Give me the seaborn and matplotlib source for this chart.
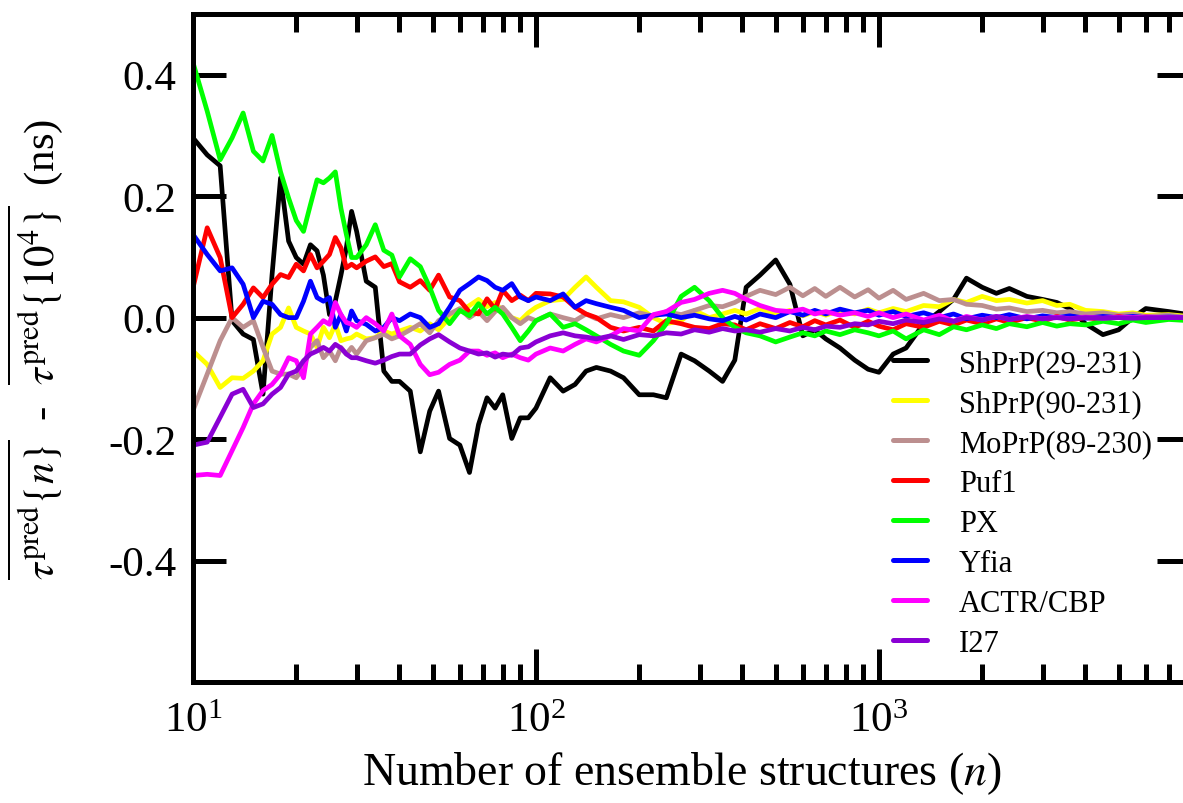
import matplotlib
matplotlib.use("Agg")
import matplotlib.pyplot as plt
import seaborn as sns
import numpy as np
import pandas as pd

# ---------------- data ----------------
n_values = (list(range(10, 31)) +
            [32, 34, 36, 38, 40, 43, 46, 49, 52, 56, 60, 64, 68, 72, 76, 80, 85, 90, 95, 100] +
            [110, 120, 130, 140, 150, 165, 180, 200, 220, 240,
             265, 290, 320, 350, 380, 410, 450, 500, 550, 600,
             650, 700, 770, 850, 930, 1000, 1100, 1200, 1350, 1500,
             1650, 1800, 2000, 2200, 2400, 2700, 3000, 3300, 3600, 4000,
             4500, 5000, 5500, 6000, 7000, 8000])

series_names = ["ShPrP(29-231)", "ShPrP(90-231)", "MoPrP(89-230)", "Puf1",
                "PX", "Yfia", "ACTR/CBP", "I27"]

shprp29 = [0.296, 0.268, 0.25, -0.005, -0.027, -0.036, -0.126, 0.07, 0.23, 0.126,
           0.099, 0.088, 0.12, 0.11, 0.07, 0.005, 0.027, 0.07, 0.115, 0.175, 0.142,
           0.06, 0.05, -0.088, -0.105, -0.105, -0.121, -0.221, -0.154, -0.121, -0.199,
           -0.21, -0.255, -0.176, -0.132, -0.149, -0.127, -0.199, -0.165, -0.165, -0.149,
           -0.099, -0.121, -0.11, -0.088, -0.082, -0.088, -0.099, -0.127, -0.127, -0.132,
           -0.06, -0.071, -0.088, -0.105, -0.07, 0.05, 0.07, 0.095, 0.055, -0.03,
           -0.02, -0.035, -0.05, -0.07, -0.085, -0.09, -0.06, -0.05, -0.01, 0.01,
           0.03, 0.065, 0.05, 0.04, 0.048, 0.035, 0.03, 0.025, 0.015, -0.01,
           -0.028, -0.02, 0.0, 0.015, 0.01, 0.005]

shprp90 = [-0.055, -0.077, -0.115, -0.099, -0.1, -0.088, -0.071, -0.027, -0.016, 0.016,
           -0.016, -0.022, -0.027, -0.049, -0.016, -0.033, -0.011, -0.038, -0.035, -0.033, -0.027,
           -0.035, -0.033, -0.022, -0.027, -0.022, -0.016, -0.022, -0.01, -0.02, 0.0,
           0.01, 0.02, 0.03, 0.018, 0.025, 0.01, 0.0, -0.005, 0.008, 0.017,
           0.028, 0.03, 0.05, 0.067, 0.05, 0.028, 0.026, 0.017, 0.0, -0.01,
           -0.005, 0.012, 0.0, 0.006, 0.012, 0.006, 0.015, 0.005, 0.012, 0.003,
           0.01, 0.004, 0.012, 0.006, 0.014, 0.008, 0.015, 0.01, 0.02, 0.018,
           0.03, 0.025, 0.035, 0.028, 0.03, 0.024, 0.028, 0.02, 0.022, 0.012,
           0.01, 0.006, 0.008, 0.004, 0.005, 0.002]

moprp = [-0.153, -0.093, -0.038, 0.0, -0.016, -0.005, -0.049, -0.088, -0.093, -0.093,
         -0.099, -0.082, -0.049, -0.038, -0.066, -0.055, -0.071, -0.049, -0.06, -0.049, -0.06,
         -0.038, -0.033, -0.027, -0.035, -0.03, -0.02, -0.01, -0.025, -0.005, 0.006,
         0.015, 0.0, 0.01, -0.005, 0.01, 0.017, 0.0, -0.01, 0.0, -0.005,
         0.006, 0.0, -0.005, 0.006, -0.002, 0.005, 0.0, 0.008, 0.002, 0.01,
         0.005, 0.012, 0.02, 0.018, 0.025, 0.035, 0.045, 0.038, 0.05, 0.036,
         0.048, 0.035, 0.05, 0.034, 0.046, 0.032, 0.045, 0.03, 0.04, 0.028,
         0.03, 0.022, 0.02, 0.014, 0.016, 0.01, 0.012, 0.008, 0.01, 0.006,
         0.008, 0.004, 0.006, 0.002, 0.004, 0.0]

puf1 = [0.049, 0.148, 0.099, 0.0, 0.022, 0.049, 0.033, 0.055, 0.071, 0.066,
        0.088, 0.077, 0.104, 0.082, 0.093, 0.104, 0.132, 0.115, 0.082, 0.088, 0.082,
        0.093, 0.1, 0.084, 0.089, 0.059, 0.05, 0.061, 0.045, 0.07, 0.034,
        0.028, 0.009, 0.006, 0.031, 0.014, 0.045, 0.028, 0.037, 0.028, 0.04,
        0.039, 0.034, 0.017, 0.006, 0.0, -0.016, -0.022, -0.016, -0.022, -0.005,
        -0.01, -0.016, -0.018, -0.01, -0.012, -0.02, -0.01, -0.018, -0.008, -0.015,
        -0.005, -0.012, -0.004, -0.016, -0.006, -0.014, -0.02, -0.01, -0.016, -0.006,
        -0.012, -0.004, -0.01, -0.002, -0.008, 0.0, -0.006, 0.002, -0.004, 0.0,
        -0.003, 0.002, -0.002, 0.001, -0.001, 0.0]

px = [0.42, 0.34, 0.26, 0.296, 0.337, 0.274, 0.258, 0.30, 0.24, 0.197,
      0.16, 0.142, 0.186, 0.227, 0.222, 0.23, 0.24, 0.18, 0.137, 0.099, 0.099,
      0.12, 0.153, 0.111, 0.103, 0.067, 0.097, 0.084, 0.05, 0.012, -0.01,
      0.012, 0.003, 0.023, 0.006, 0.017, 0.006, -0.016, -0.038, -0.022, -0.005,
      0.006, -0.016, -0.01, -0.02, -0.03, -0.044, -0.055, -0.062, -0.038, -0.01,
      0.035, 0.05, 0.028, 0.0, -0.016, -0.025, -0.03, -0.04, -0.032, -0.025,
      -0.03, -0.022, -0.028, -0.02, -0.025, -0.03, -0.022, -0.035, -0.02, -0.028,
      -0.015, -0.02, -0.012, -0.018, -0.01, -0.015, -0.008, -0.014, -0.01, -0.012,
      -0.006, -0.01, -0.004, -0.008, -0.003, -0.005]

yfia = [0.137, 0.104, 0.077, 0.082, 0.055, 0.0, 0.027, 0.022, 0.005, 0.0,
        0.0, 0.027, 0.06, 0.033, 0.027, 0.033, -0.016, 0.005, -0.022, 0.011, -0.005,
        -0.011, -0.022, -0.016, 0.0, -0.005, 0.006, 0.0, -0.016, -0.01, 0.017,
        0.045, 0.056, 0.067, 0.061, 0.05, 0.045, 0.056, 0.034, 0.028, 0.034,
        0.028, 0.039, 0.017, 0.028, 0.023, 0.017, 0.012, 0.0, 0.004, 0.006,
        0.0, 0.004, -0.002, -0.005, 0.002, -0.004, 0.006, 0.0, 0.01, 0.004,
        0.012, 0.006, 0.014, 0.008, 0.012, 0.004, 0.01, 0.002, 0.008, 0.0,
        0.006, -0.002, 0.004, 0.0, 0.005, -0.002, 0.003, 0.0, 0.003, -0.001,
        0.002, 0.0, 0.002, 0.0, 0.001, 0.0]

actr = [-0.26, -0.258, -0.26, -0.219, -0.181, -0.142, -0.12, -0.11, -0.093, -0.066,
        -0.071, -0.099, -0.027, -0.016, -0.005, -0.011, 0.025, 0.005, -0.008, -0.011, -0.016,
        0.0, -0.01, -0.022, 0.006, -0.03, -0.044, -0.077, -0.094, -0.09, -0.077,
        -0.07, -0.055, -0.055, -0.062, -0.058, -0.066, -0.06, -0.066, -0.07, -0.06,
        -0.05, -0.055, -0.044, -0.035, -0.04, -0.03, -0.018, -0.022, 0.005, 0.01,
        0.025, 0.03, 0.04, 0.045, 0.04, 0.03, 0.02, 0.012, 0.01, 0.014,
        0.006, 0.01, 0.004, 0.008, 0.002, 0.008, 0.0, 0.006, -0.004, 0.004,
        -0.006, 0.002, -0.004, 0.002, -0.003, 0.002, -0.002, 0.001, -0.002, 0.001,
        -0.001, 0.001, 0.0, 0.001, 0.0, 0.0]

i27 = [-0.21, -0.205, -0.164, -0.126, -0.118, -0.148, -0.142, -0.126, -0.115, -0.093,
       -0.088, -0.071, -0.06, -0.055, -0.049, -0.055, -0.044, -0.05, -0.06, -0.066, -0.066,
       -0.071, -0.075, -0.07, -0.064, -0.06, -0.06, -0.045, -0.035, -0.028, -0.04,
       -0.05, -0.055, -0.06, -0.058, -0.065, -0.06, -0.062, -0.05, -0.048, -0.04,
       -0.03, -0.025, -0.03, -0.032, -0.035, -0.03, -0.036, -0.028, -0.03, -0.025,
       -0.027, -0.02, -0.024, -0.018, -0.022, -0.02, -0.024, -0.018, -0.022, -0.016,
       -0.02, -0.014, -0.016, -0.01, -0.012, -0.006, -0.01, -0.004, -0.008, -0.002,
       -0.006, 0.0, -0.004, 0.002, -0.003, 0.001, -0.002, 0.0, -0.002, 0.0,
       -0.001, 0.0, -0.001, 0.0, 0.0, 0.0]

series_values = [shprp29, shprp90, moprp, puf1, px, yfia, actr, i27]
series_colors = ["#000000", "#FFFF00", "#BC8F8F", "#FF0000",
                 "#00FF00", "#0000FF", "#FF00FF", "#8A00D4"]

y_ticks = [-0.4, -0.2, 0.0, 0.2, 0.4]

# ---------------- style ----------------
sns.set_theme(style="ticks")
plt.rcParams["font.family"] = ["Liberation Serif", "DejaVu Serif"]
plt.rcParams["mathtext.fontset"] = "stix"
for key in ["text.color", "axes.labelcolor", "xtick.color", "ytick.color",
            "xtick.labelcolor", "ytick.labelcolor"]:
    plt.rcParams[key] = "black"

W, H = 1183, 804
fig = plt.figure(figsize=(W / 100, H / 100), dpi=100)
ax_left, ax_right, ax_top, ax_bottom = 193, 1190, 15, 683
ax = fig.add_axes([ax_left / W, (H - ax_bottom) / H,
                   (ax_right - ax_left) / W, (ax_bottom - ax_top) / H])

frames = []
for name, vals in zip(series_names, series_values):
    frames.append(pd.DataFrame({"n": n_values, "value": vals, "series": name}))
df = pd.concat(frames, ignore_index=True)

sns.lineplot(data=df, x="n", y="value", hue="series", hue_order=series_names,
             palette=dict(zip(series_names, series_colors)), estimator=None,
             sort=False, linewidth=3.4, ax=ax, legend=False)

ax.set_xscale("log")
ax.set_xlim(10, 10 ** 3.907)
ax.set_ylim(-0.6, 0.5)
ax.set_yticks(y_ticks)
ax.set_yticklabels([f"{v:.1f}" for v in y_ticks])
ax.yaxis.set_minor_locator(matplotlib.ticker.NullLocator())

for sp in ax.spines.values():
    sp.set_linewidth(3.6)
    sp.set_color("black")

ax.tick_params(which="both", direction="in", top=True, right=True,
               color="black", width=3.6)
ax.tick_params(which="major", length=24, labelsize=31, pad=12)
ax.tick_params(axis="x", which="major", pad=14)
ax.tick_params(which="minor", length=13)

ax.set_xlabel("Number of ensemble structures ($n$)", fontsize=33)
ax.xaxis.set_label_coords(0.49, -0.1)
ax.set_ylabel(r"$\overline{\tau^{\mathrm{pred}}\{n\}}$  -  "
              r"$\overline{\tau^{\mathrm{pred}}\{10^4\}}$  (ns)", fontsize=31)
ax.yaxis.set_label_coords(-0.128, 0.50)

# legend
from matplotlib.lines import Line2D
handles = [Line2D([0], [0], color=c, lw=3.6) for c in series_colors]
leg = ax.legend(handles, series_names, loc="upper left",
                bbox_to_anchor=(893 / W, 1 - 350 / H), bbox_transform=fig.transFigure,
                frameon=False, fontsize=22, handlelength=1.1, handletextpad=1.05,
                labelspacing=0.36, borderpad=0, borderaxespad=0)

fig.savefig("out.png", dpi=100)
